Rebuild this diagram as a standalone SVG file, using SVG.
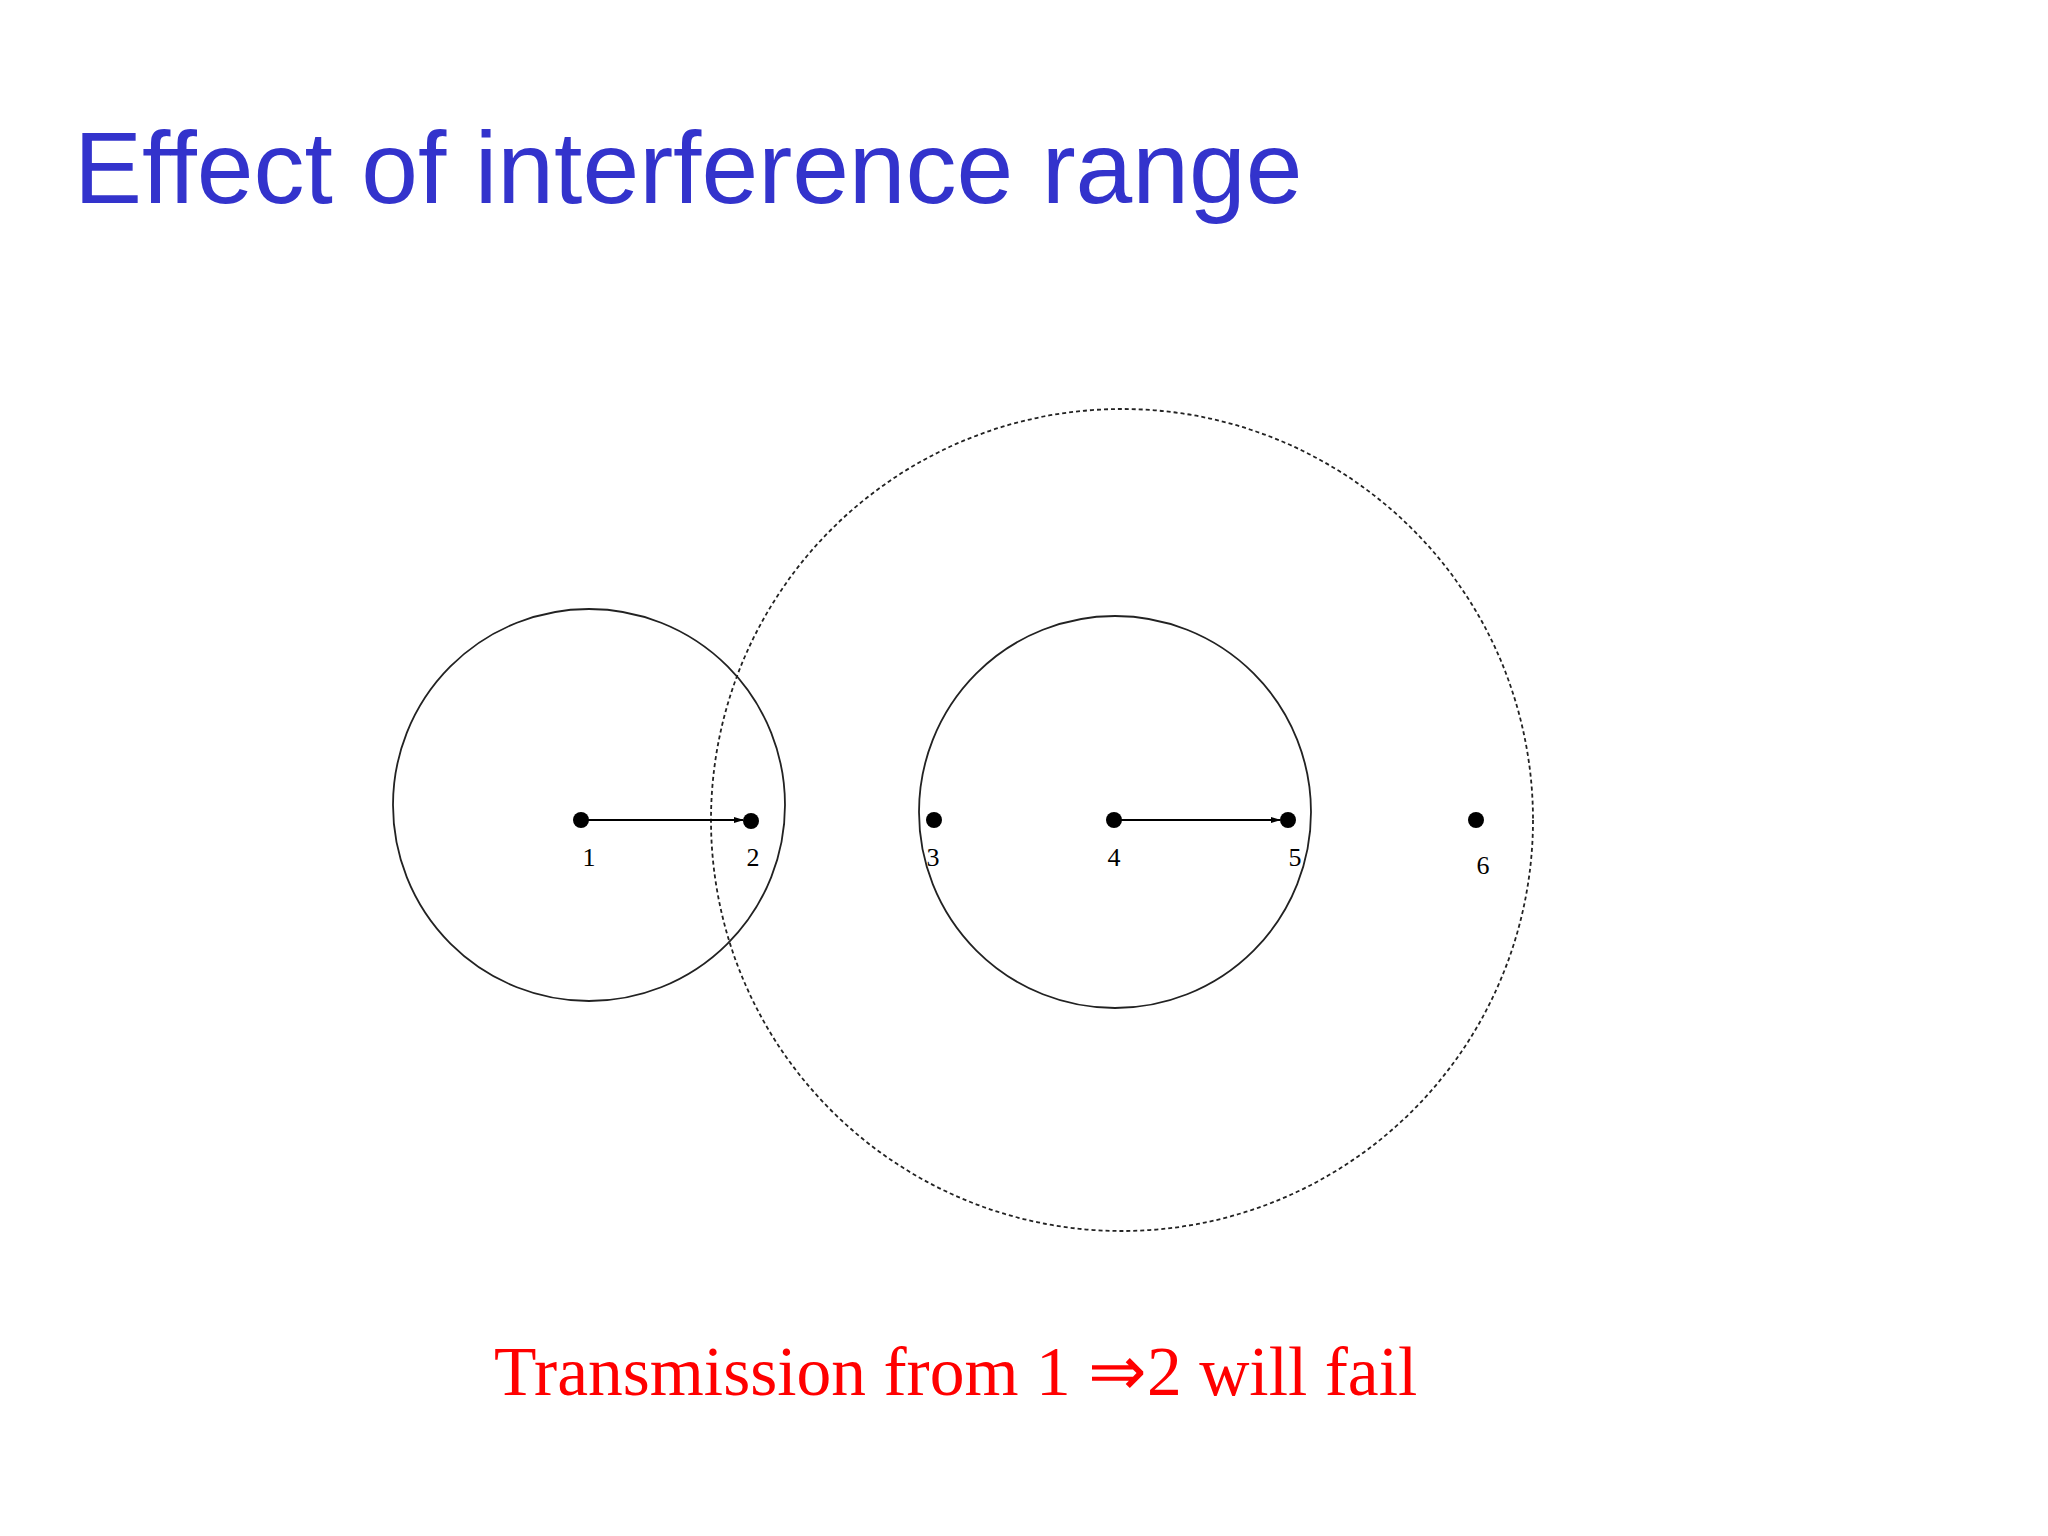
<svg xmlns="http://www.w3.org/2000/svg" width="2048" height="1536" viewBox="0 0 2048 1536">
<style>
.rng{fill:none;stroke:#222;stroke-width:1.8}
.dash{fill:none;stroke:#222;stroke-width:1.8;stroke-dasharray:4 3}
.dot{fill:#000}
.lbl{font-family:"Liberation Serif",serif;font-size:26px;fill:#000;text-anchor:middle}
.arr{stroke:#000;stroke-width:2;marker-end:url(#ah)}
</style>
<defs><marker id="ah" markerWidth="10" markerHeight="8" refX="9" refY="4" orient="auto" markerUnits="userSpaceOnUse"><path d="M0,1 L10,4 L0,7 Z" fill="#000"/></marker></defs>
<rect width="2048" height="1536" fill="#fff"/>
<text x="74" y="203" font-family="Liberation Sans,Arial,sans-serif" font-size="102" fill="#3333cc">Effect of interference range</text>
<g id="ranges">
<circle class="rng" cx="589" cy="805" r="196"/>
<circle class="dash" cx="1122" cy="820" r="411"/>
<circle class="rng" cx="1115" cy="812" r="196"/>
</g>
<g id="connectors">
<line class="arr" x1="581" y1="820" x2="743" y2="820"/>
<line class="arr" x1="1114" y1="820" x2="1280" y2="820"/>
</g>
<g id="n1"><circle class="dot" cx="581" cy="820" r="8"/><text class="lbl" x="589" y="866">1</text></g>
<g id="n2"><circle class="dot" cx="751" cy="821" r="8"/><text class="lbl" x="753" y="866">2</text></g>
<g id="n3"><circle class="dot" cx="934" cy="820" r="8"/><text class="lbl" x="933" y="866">3</text></g>
<g id="n4"><circle class="dot" cx="1114" cy="820" r="8"/><text class="lbl" x="1114" y="866">4</text></g>
<g id="n5"><circle class="dot" cx="1288" cy="820" r="8"/><text class="lbl" x="1295" y="866">5</text></g>
<g id="n6"><circle class="dot" cx="1476" cy="820" r="8"/><text class="lbl" x="1483" y="874">6</text></g>
<text x="494" y="1395" font-family="Liberation Serif,serif" font-size="69.5" fill="#ff0000">Transmission from 1 ⇒2 will fail</text>
</svg>
